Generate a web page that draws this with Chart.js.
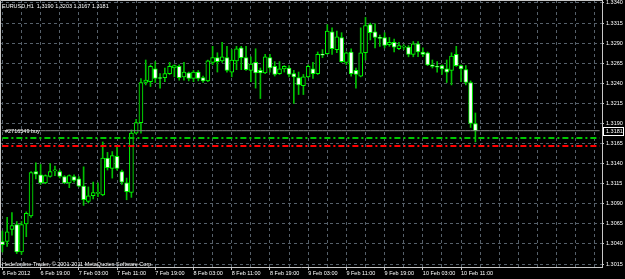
<!DOCTYPE html>
<html>
<head>
<meta charset="utf-8">
<script src="https://cdn.jsdelivr.net/npm/chart.js@4/dist/chart.umd.min.js"></script>
<style>
  html, body { margin: 0; padding: 0; background: #000; }
  #wrap { width: 625px; height: 279px; }
</style>
</head>
<body>
<div id="wrap"><canvas id="chart" width="625" height="279"></canvas></div>
<script>
// EURUSD H1 candles, 6 Feb 11:00 .. 10 Feb 14:00
const openP = [
  1.3043, 1.3043, 1.3058, 1.3064, 1.3030, 1.3065, 1.3075, 1.3130, 1.3126, 1.3116,
  1.3124, 1.3131, 1.3130, 1.3124, 1.3116, 1.3124, 1.3121, 1.3112, 1.3093, 1.3100,
  1.3103, 1.3101, 1.3147, 1.3134, 1.3149, 1.3130, 1.3116, 1.3104, 1.3178, 1.3191,
  1.3241, 1.3242, 1.3258, 1.3247, 1.3247, 1.3252, 1.3259, 1.3261, 1.3248, 1.3253,
  1.3246, 1.3254, 1.3247, 1.3243, 1.3266, 1.3272, 1.3268, 1.3272, 1.3254, 1.3268,
  1.3284, 1.3272, 1.3256, 1.3266, 1.3256, 1.3253, 1.3272, 1.3261, 1.3252, 1.3258,
  1.3259, 1.3252, 1.3247, 1.3237, 1.3248, 1.3258, 1.3252, 1.3276, 1.3277, 1.3304,
  1.3282, 1.3297, 1.3266, 1.3279, 1.3256, 1.3249, 1.3278, 1.3313, 1.3304, 1.3297,
  1.3297, 1.3288, 1.3291, 1.3283, 1.3285, 1.3285, 1.3276, 1.3289, 1.3279, 1.3278,
  1.3263, 1.3261, 1.3262, 1.3258, 1.3256, 1.3276, 1.3262, 1.3257, 1.3241, 1.3190
];
const highP = [
  1.3056, 1.3073, 1.3079, 1.3068, 1.3068, 1.3080, 1.3130, 1.3141, 1.3139, 1.3126,
  1.3140, 1.3137, 1.3132, 1.3125, 1.3126, 1.3126, 1.3124, 1.3136, 1.3111, 1.3117,
  1.3116, 1.3167, 1.3154, 1.3155, 1.3162, 1.3132, 1.3122, 1.3182, 1.3195, 1.3246,
  1.3269, 1.3263, 1.3267, 1.3252, 1.3259, 1.3266, 1.3263, 1.3263, 1.3266, 1.3254,
  1.3256, 1.3256, 1.3249, 1.3269, 1.3286, 1.3278, 1.3291, 1.3286, 1.3282, 1.3286,
  1.3286, 1.3286, 1.3273, 1.3283, 1.3259, 1.3276, 1.3276, 1.3267, 1.3267, 1.3262,
  1.3262, 1.3256, 1.3254, 1.3251, 1.3263, 1.3266, 1.3279, 1.3282, 1.3313, 1.3309,
  1.3305, 1.3303, 1.3279, 1.3283, 1.3259, 1.3309, 1.3322, 1.3315, 1.3314, 1.3300,
  1.3303, 1.3297, 1.3295, 1.3291, 1.3288, 1.3287, 1.3292, 1.3292, 1.3284, 1.3279,
  1.3269, 1.3267, 1.3263, 1.3269, 1.3278, 1.3286, 1.3263, 1.3262, 1.3243, 1.3203
];
const lowP = [
  1.3030, 1.3037, 1.3051, 1.3028, 1.3027, 1.3049, 1.3073, 1.3121, 1.3114, 1.3115,
  1.3123, 1.3125, 1.3122, 1.3115, 1.3110, 1.3117, 1.3111, 1.3088, 1.3091, 1.3096,
  1.3099, 1.3100, 1.3132, 1.3122, 1.3132, 1.3114, 1.3095, 1.3098, 1.3177, 1.3178,
  1.3238, 1.3236, 1.3241, 1.3234, 1.3242, 1.3251, 1.3248, 1.3244, 1.3244, 1.3243,
  1.3242, 1.3243, 1.3241, 1.3242, 1.3263, 1.3254, 1.3266, 1.3254, 1.3248, 1.3257,
  1.3257, 1.3256, 1.3242, 1.3234, 1.3221, 1.3252, 1.3254, 1.3249, 1.3251, 1.3254,
  1.3248, 1.3215, 1.3226, 1.3226, 1.3247, 1.3246, 1.3251, 1.3272, 1.3276, 1.3276,
  1.3278, 1.3266, 1.3263, 1.3249, 1.3234, 1.3248, 1.3269, 1.3294, 1.3284, 1.3286,
  1.3284, 1.3286, 1.3279, 1.3282, 1.3282, 1.3273, 1.3273, 1.3273, 1.3273, 1.3262,
  1.3259, 1.3254, 1.3251, 1.3241, 1.3238, 1.3261, 1.3242, 1.3238, 1.3185, 1.3167
];
const closeP = [
  1.3039, 1.3055, 1.3063, 1.3030, 1.3064, 1.3078, 1.3129, 1.3127, 1.3116, 1.3125,
  1.3130, 1.3132, 1.3124, 1.3116, 1.3125, 1.3119, 1.3112, 1.3095, 1.3100, 1.3104,
  1.3104, 1.3147, 1.3135, 1.3150, 1.3134, 1.3117, 1.3105, 1.3178, 1.3191, 1.3241,
  1.3244, 1.3261, 1.3246, 1.3246, 1.3252, 1.3261, 1.3262, 1.3247, 1.3254, 1.3246,
  1.3254, 1.3246, 1.3243, 1.3268, 1.3272, 1.3267, 1.3273, 1.3256, 1.3269, 1.3283,
  1.3272, 1.3257, 1.3264, 1.3253, 1.3253, 1.3273, 1.3259, 1.3251, 1.3258, 1.3261,
  1.3251, 1.3248, 1.3238, 1.3248, 1.3261, 1.3252, 1.3276, 1.3275, 1.3305, 1.3283,
  1.3298, 1.3267, 1.3278, 1.3252, 1.3251, 1.3278, 1.3312, 1.3303, 1.3297, 1.3296,
  1.3287, 1.3291, 1.3285, 1.3287, 1.3286, 1.3276, 1.3289, 1.3279, 1.3276, 1.3263,
  1.3261, 1.3260, 1.3258, 1.3254, 1.3274, 1.3262, 1.3258, 1.3241, 1.3190, 1.3181
];

// labels under every 8th bar, starting at the first one
const timeTicks = [
  '6 Feb 2012', '6 Feb 19:00', '7 Feb 03:00', '7 Feb 11:00', '7 Feb 19:00',
  '8 Feb 03:00', '8 Feb 11:00', '8 Feb 19:00', '9 Feb 03:00', '9 Feb 11:00',
  '9 Feb 19:00', '10 Feb 03:00', '10 Feb 11:00'
];
const priceTicks = [
  1.3015, 1.3040, 1.3065, 1.3090, 1.3115, 1.3140, 1.3165,
  1.3190, 1.3215, 1.3240, 1.3265, 1.3290, 1.3315, 1.3340
];

const bidPrice = 1.3181;
const buyPrice = 1.3172;
const stopPrice = 1.3162;
const orderLabel = '#2716549 buy';
const titleText = 'EURUSD,H1  1.3190 1.3203 1.3167 1.3181';
const footerText = 'Hedefonline Trader, \u00a9 2001-2011 MetaQuotes Software Corp.';

// chart shift: empty bar slots on the right
const slots = 126;
const slotLabels = Array.from({ length: slots }, (_, i) => i);

const font = { family: '"Liberation Sans", Arial, sans-serif', size: 5.5 };
const gridColor = '#56606a';
const frameColor = '#c8c8c8';
const lime = '#00ff00';

const level = (v) => Array(slots).fill(v);

const mtDecor = {
  id: 'mtDecor',
  afterDraw(chart) {
    const { ctx, chartArea: a } = chart;
    const y = chart.scales.y;
    ctx.save();
    ctx.strokeStyle = frameColor;
    ctx.lineWidth = 1;
    ctx.beginPath();
    ctx.moveTo(a.left + 0.5, a.bottom);
    ctx.lineTo(a.left + 0.5, a.top + 0.5);
    ctx.lineTo(a.right, a.top + 0.5);
    ctx.stroke();

    ctx.font = font.size + 'px ' + font.family;
    ctx.fillStyle = '#ffffff';
    ctx.textBaseline = 'middle';
    ctx.textAlign = 'left';
    ctx.fillText(titleText, 2, 6);
    ctx.fillText(footerText, 2, 264);
    ctx.fillText(orderLabel, 5, y.getPixelForValue(buyPrice) - 6);

    // current bid box on the price scale
    const py = Math.round(y.getPixelForValue(bidPrice));
    ctx.fillStyle = '#ffffff';
    ctx.fillRect(a.right + 1, py - 4, 21, 9);
    ctx.fillStyle = '#000000';
    ctx.fillRect(a.right + 2, py - 3, 19, 7);
    ctx.fillStyle = '#ffffff';
    ctx.fillText(bidPrice.toFixed(4), a.right + 4, py + 0.5);
    ctx.restore();
  }
};

new Chart(document.getElementById('chart'), {
  type: 'bar',
  data: {
    labels: slotLabels,
    datasets: [
      {
        type: 'line',
        label: 'bid',
        data: level(bidPrice),
        borderColor: '#8a8a8a',
        borderWidth: 1,
        pointRadius: 0,
        order: 0
      },
      {
        type: 'line',
        label: 'buy',
        data: level(buyPrice),
        borderColor: '#00c800',
        borderWidth: 2,
        borderDash: [6, 3, 2, 3],
        pointRadius: 0,
        order: 0
      },
      {
        type: 'line',
        label: 'stop',
        data: level(stopPrice),
        borderColor: '#ff0000',
        borderWidth: 2,
        borderDash: [6, 3, 2, 3],
        pointRadius: 0,
        order: 0
      },
      {
        label: 'body',
        data: openP.map((o, i) => [o, closeP[i]]),
        backgroundColor: openP.map((o, i) => closeP[i] >= o ? '#000000' : '#ffffff'),
        borderColor: lime,
        borderWidth: 1,
        borderSkipped: false,
        barThickness: 4,
        minBarLength: 1,
        grouped: false,
        order: 1
      },
      {
        label: 'wick',
        data: lowP.map((l, i) => [l, highP[i]]),
        backgroundColor: '#00c000',
        barThickness: 1,
        grouped: false,
        order: 2
      }
    ]
  },
  options: {
    responsive: false,
    animation: false,
    events: [],
    layout: { padding: 0 },
    plugins: { legend: { display: false }, tooltip: { enabled: false } },
    scales: {
      x: {
        type: 'category',
        offset: true,
        grid: {
          offset: false,
          color: (c) => c.index % 4 === 0 ? gridColor : 'transparent',
          tickColor: (c) => c.index % 8 === 0 && c.index / 8 < timeTicks.length ? frameColor : 'transparent',
          tickLength: 3
        },
        border: { display: true, color: frameColor, dash: [3, 3] },
        ticks: {
          autoSkip: false,
          maxRotation: 0,
          minRotation: 0,
          align: 'start',
          padding: 0,
          color: '#ffffff',
          font: font,
          callback: (v, i) => (i % 8 === 0 && i / 8 < timeTicks.length) ? timeTicks[i / 8] : ''
        },
        afterFit: (s) => { s.height = 12; s.paddingLeft = 0; s.paddingRight = 0; }
      },
      y: {
        position: 'right',
        min: 1.30113,
        max: 1.33437,
        afterBuildTicks: (s) => { s.ticks = priceTicks.map((v) => ({ value: v })); },
        grid: { color: gridColor, tickColor: frameColor, tickLength: 2 },
        border: { display: true, color: frameColor, dash: [3, 3] },
        ticks: {
          color: '#ffffff',
          font: font,
          padding: 2,
          callback: (v) => Number(v).toFixed(4)
        },
        afterFit: (s) => { s.width = 23; s.paddingTop = 0; s.paddingBottom = 0; }
      }
    }
  },
  plugins: [mtDecor]
});
</script>
</body>
</html>
